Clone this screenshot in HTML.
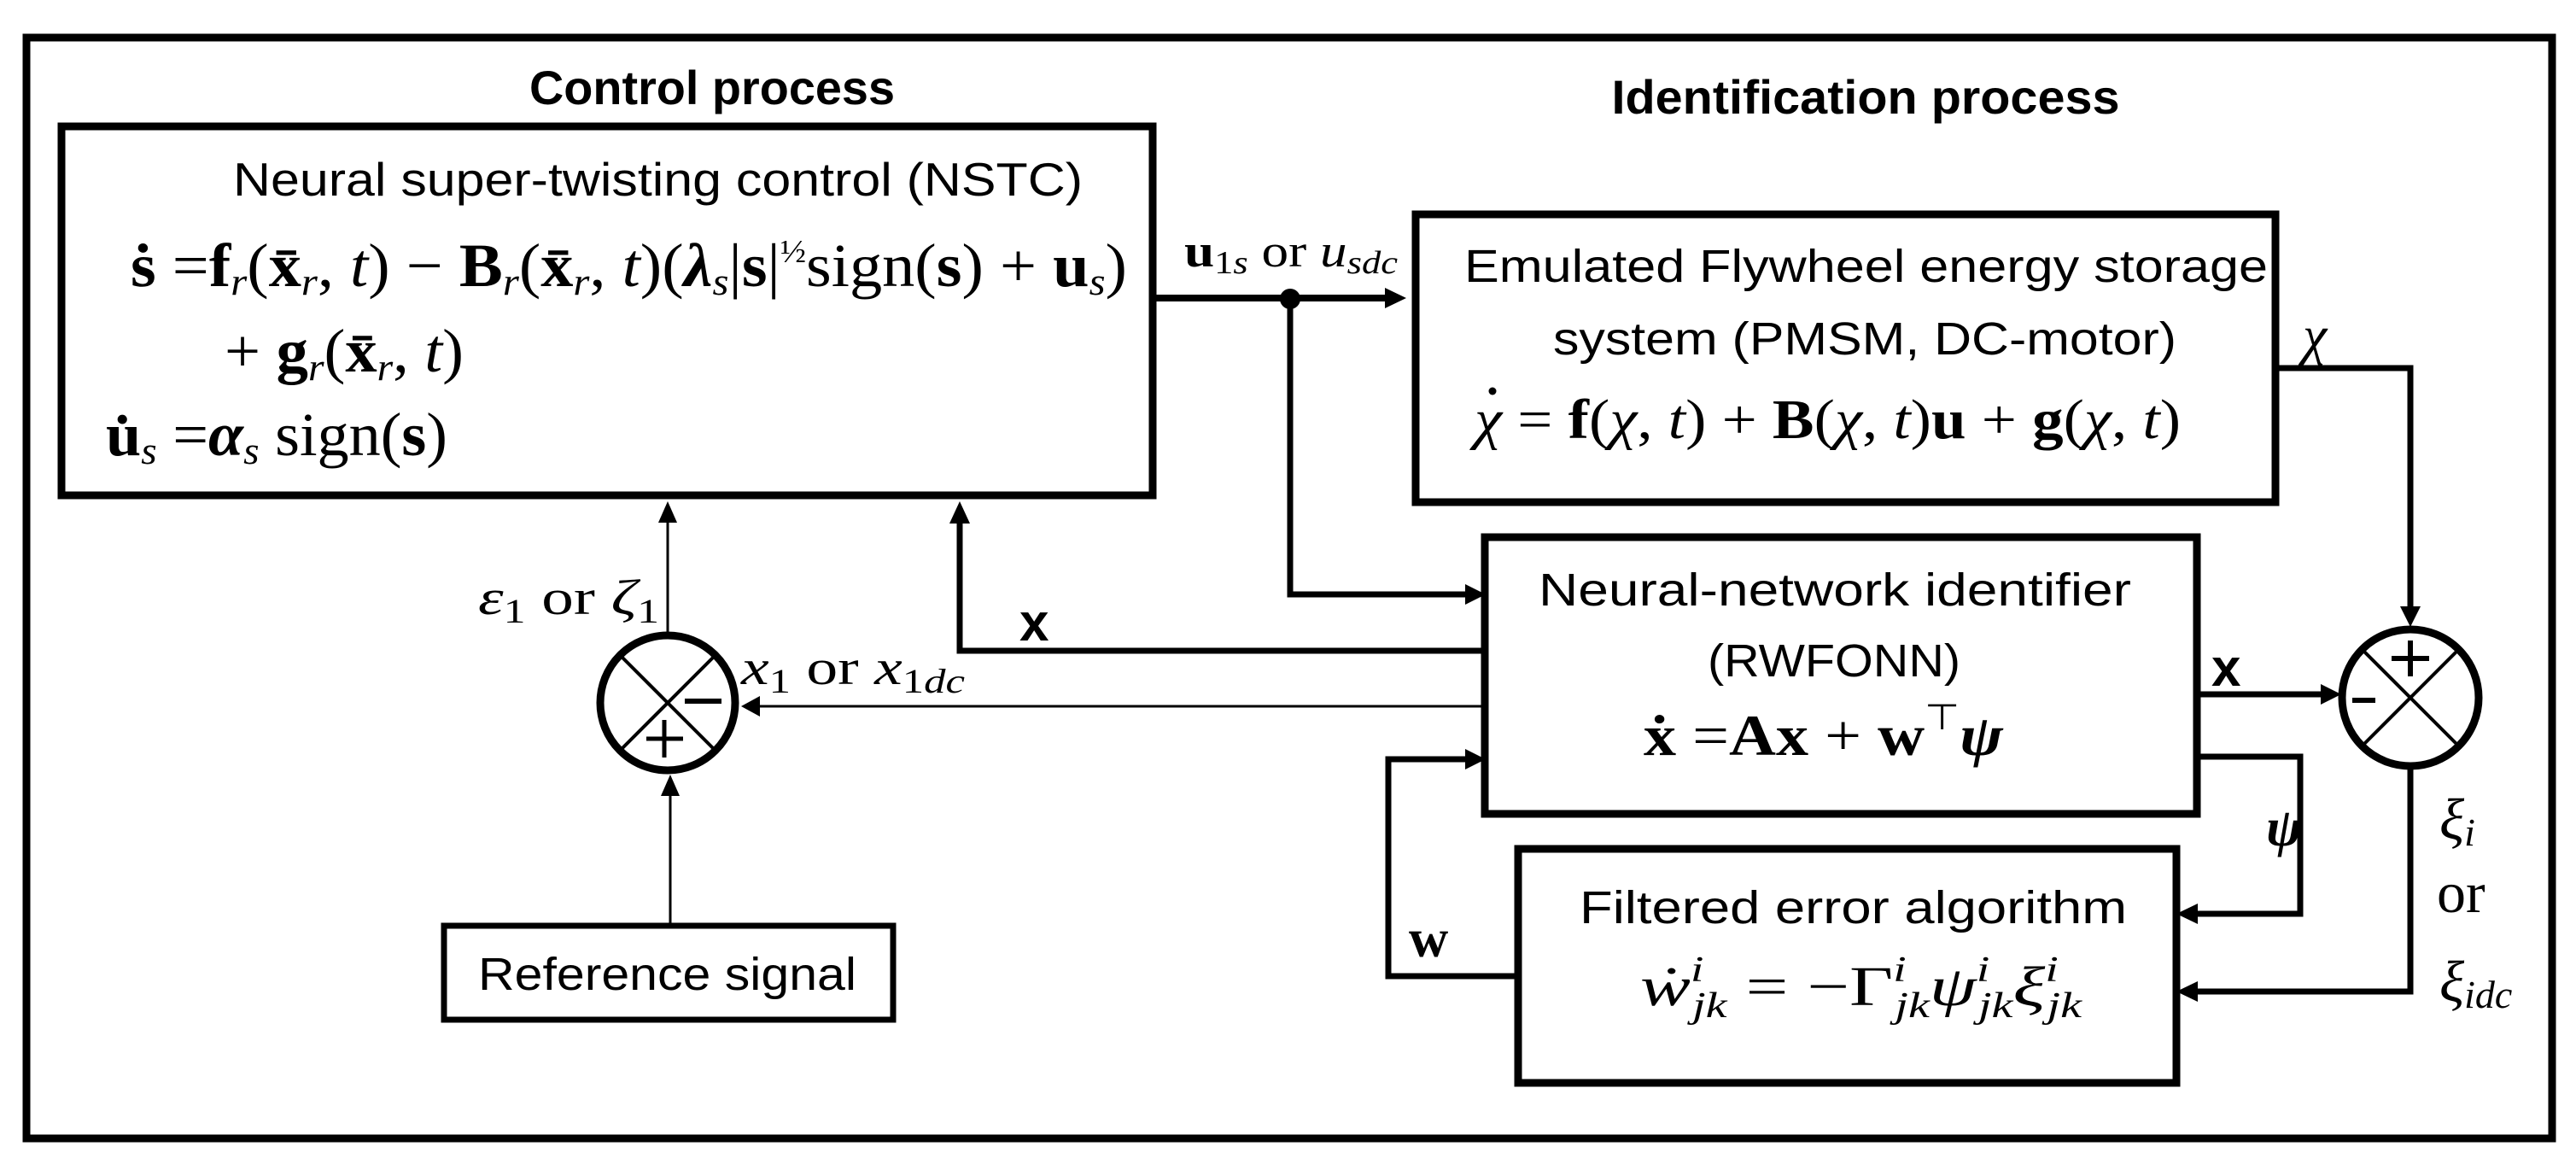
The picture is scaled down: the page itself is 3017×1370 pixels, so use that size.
<!DOCTYPE html>
<html><head><meta charset="utf-8"><style>
html,body{margin:0;padding:0;background:#fff}
svg{display:block}
.s{font-family:"Liberation Sans",sans-serif}
.m{font-family:"Liberation Serif",serif}
</style></head><body>
<svg width="3017" height="1370" viewBox="0 0 3017 1370" xmlns="http://www.w3.org/2000/svg">
<rect x="0" y="0" width="3017" height="1370" fill="#fff"/>
<rect x="31" y="44" width="2958" height="1289" fill="none" stroke="#000" stroke-width="9"/>

<text class="s" x="834" y="122" font-size="56" font-weight="bold" text-anchor="middle" textLength="428" lengthAdjust="spacingAndGlyphs">Control process</text>
<text class="s" x="2185" y="133" font-size="56" font-weight="bold" text-anchor="middle" textLength="595" lengthAdjust="spacingAndGlyphs">Identification process</text>

<rect x="72" y="148" width="1278" height="432" fill="none" stroke="#000" stroke-width="9"/>
<text class="s" x="273" y="229" font-size="55" textLength="995" lengthAdjust="spacingAndGlyphs">Neural super-twisting control (NSTC)</text>
<text class="m" x="153" y="335" font-size="72" textLength="1167" lengthAdjust="spacingAndGlyphs"><tspan font-weight="bold">ṡ</tspan> =<tspan font-weight="bold">f</tspan><tspan font-style="italic" font-size="46" dy="10">r</tspan><tspan dy="-10">(</tspan><tspan font-weight="bold">x̄</tspan><tspan font-style="italic" font-size="46" dy="10">r</tspan><tspan dy="-10">, </tspan><tspan font-style="italic">t</tspan>) − <tspan font-weight="bold">B</tspan><tspan font-style="italic" font-size="46" dy="10">r</tspan><tspan dy="-10">(</tspan><tspan font-weight="bold">x̄</tspan><tspan font-style="italic" font-size="46" dy="10">r</tspan><tspan dy="-10">, </tspan><tspan font-style="italic">t</tspan>)(<tspan font-weight="bold" font-style="italic">λ</tspan><tspan font-style="italic" font-size="46" dy="10">s</tspan><tspan dy="-10">|</tspan><tspan font-weight="bold">s</tspan>|<tspan font-size="38" dy="-28">½</tspan><tspan dy="28">sign(</tspan><tspan font-weight="bold">s</tspan>) + <tspan font-weight="bold">u</tspan><tspan font-style="italic" font-size="46" dy="10">s</tspan><tspan dy="-10">)</tspan></text>
<text class="m" x="263" y="435" font-size="72" textLength="280" lengthAdjust="spacingAndGlyphs">+ <tspan font-weight="bold">g</tspan><tspan font-style="italic" font-size="46" dy="10">r</tspan><tspan dy="-10">(</tspan><tspan font-weight="bold">x̄</tspan><tspan font-style="italic" font-size="46" dy="10">r</tspan><tspan dy="-10">, </tspan><tspan font-style="italic">t</tspan>)</text>
<text class="m" x="124" y="533" font-size="72" textLength="400" lengthAdjust="spacingAndGlyphs"><tspan font-weight="bold">u̇</tspan><tspan font-style="italic" font-size="46" dy="10">s</tspan><tspan dy="-10"> =</tspan><tspan font-weight="bold" font-style="italic">α</tspan><tspan font-style="italic" font-size="46" dy="10">s</tspan><tspan dy="-10"> sign(</tspan><tspan font-weight="bold">s</tspan>)</text>

<line x1="1350" y1="349" x2="1625" y2="349" stroke="#000" stroke-width="8"/>
<polygon points="1647,349 1622,337 1622,361" fill="#000"/>
<circle cx="1511" cy="350" r="12" fill="#000"/>
<text class="m" x="1387" y="312" font-size="54" textLength="250" lengthAdjust="spacingAndGlyphs"><tspan font-weight="bold">u</tspan><tspan font-size="38" dy="8">1<tspan font-style="italic">s</tspan></tspan><tspan dy="-8"> or </tspan><tspan font-style="italic">u</tspan><tspan font-style="italic" font-size="38" dy="8">sdc</tspan></text>
<polyline points="1511,350 1511,696 1718,696" fill="none" stroke="#000" stroke-width="7"/>
<polygon points="1740,696 1716,684 1716,708" fill="#000"/>

<rect x="1658" y="251" width="1007" height="337" fill="none" stroke="#000" stroke-width="9"/>
<text class="s" x="1715" y="330" font-size="54" textLength="941" lengthAdjust="spacingAndGlyphs">Emulated Flywheel energy storage</text>
<text class="s" x="1819" y="415" font-size="54" textLength="730" lengthAdjust="spacingAndGlyphs">system (PMSM, DC-motor)</text>
<circle cx="1748" cy="458" r="4.5" fill="#000"/>
<text class="m" x="1727" y="513" font-size="66" textLength="827" lengthAdjust="spacingAndGlyphs"><tspan font-style="italic">χ</tspan> = <tspan font-weight="bold">f</tspan>(<tspan font-style="italic">χ</tspan>, <tspan font-style="italic">t</tspan>) + <tspan font-weight="bold">B</tspan>(<tspan font-style="italic">χ</tspan>, <tspan font-style="italic">t</tspan>)<tspan font-weight="bold">u</tspan> + <tspan font-weight="bold">g</tspan>(<tspan font-style="italic">χ</tspan>, <tspan font-style="italic">t</tspan>)</text>
<polyline points="2665,431 2823,431 2823,712" fill="none" stroke="#000" stroke-width="7"/>
<polygon points="2823,734 2811,710 2835,710" fill="#000"/>
<text class="m" x="2697" y="414" font-size="64" font-style="italic">χ</text>

<rect x="1739" y="629" width="834" height="324" fill="none" stroke="#000" stroke-width="9"/>
<text class="s" x="1802" y="709" font-size="54" textLength="694" lengthAdjust="spacingAndGlyphs">Neural-network identifier</text>
<text class="s" x="2148" y="792" font-size="54" text-anchor="middle" textLength="296" lengthAdjust="spacingAndGlyphs">(RWFONN)</text>
<text class="m" x="1925" y="884" font-size="68" textLength="421" lengthAdjust="spacingAndGlyphs"><tspan font-weight="bold">ẋ</tspan> =<tspan font-weight="bold">Ax</tspan> + <tspan font-weight="bold">w</tspan><tspan font-size="42" dy="-30">⊤</tspan><tspan dy="30" font-weight="bold" font-style="italic">ψ</tspan></text>

<polyline points="1739,762 1124,762 1124,612" fill="none" stroke="#000" stroke-width="7"/>
<polygon points="1124,587 1112,613 1136,613" fill="#000"/>
<text class="s" x="1194" y="750" font-size="62" font-weight="bold">x</text>
<line x1="1739" y1="827" x2="888" y2="827" stroke="#000" stroke-width="3"/>
<polygon points="868,827 890,815 890,839" fill="#000"/>
<text class="m" x="868" y="801" font-size="58" textLength="262" lengthAdjust="spacingAndGlyphs"><tspan font-style="italic">x</tspan><tspan font-size="40" dy="10">1</tspan><tspan dy="-10"> or </tspan><tspan font-style="italic">x</tspan><tspan font-size="40" dy="10">1<tspan font-style="italic">dc</tspan></tspan></text>

<circle cx="782" cy="823" r="79" fill="#fff" stroke="#000" stroke-width="9"/>
<line x1="726" y1="767" x2="838" y2="879" stroke="#000" stroke-width="4"/>
<line x1="838" y1="767" x2="726" y2="879" stroke="#000" stroke-width="4"/>
<rect x="800" y="816" width="46" height="10" fill="#fff"/>
<line x1="802" y1="821" x2="845" y2="821" stroke="#000" stroke-width="6"/>
<line x1="757" y1="865" x2="800" y2="865" stroke="#000" stroke-width="5"/>
<line x1="778" y1="843" x2="778" y2="887" stroke="#000" stroke-width="5"/>
<line x1="782" y1="740" x2="782" y2="610" stroke="#000" stroke-width="3"/>
<polygon points="782,587 771,612 793,612" fill="#000"/>
<text class="m" x="560" y="719" font-size="58" textLength="212" lengthAdjust="spacingAndGlyphs"><tspan font-style="italic">ε</tspan><tspan font-size="40" dy="10">1</tspan><tspan dy="-10"> or </tspan><tspan font-style="italic">ζ</tspan><tspan font-size="40" dy="10">1</tspan></text>
<line x1="785" y1="1083" x2="785" y2="930" stroke="#000" stroke-width="3"/>
<polygon points="785,907 774,932 796,932" fill="#000"/>
<rect x="520" y="1084" width="526" height="110" fill="none" stroke="#000" stroke-width="7"/>
<text class="s" x="560" y="1159" font-size="54" textLength="443" lengthAdjust="spacingAndGlyphs">Reference signal</text>

<line x1="2573" y1="813" x2="2720" y2="813" stroke="#000" stroke-width="7"/>
<polygon points="2742,813 2718,801 2718,825" fill="#000"/>
<text class="s" x="2590" y="803" font-size="62" font-weight="bold">x</text>
<circle cx="2823" cy="817" r="80" fill="#fff" stroke="#000" stroke-width="9"/>
<line x1="2766" y1="760" x2="2880" y2="874" stroke="#000" stroke-width="4"/>
<line x1="2880" y1="760" x2="2766" y2="874" stroke="#000" stroke-width="4"/>
<line x1="2801" y1="771" x2="2845" y2="771" stroke="#000" stroke-width="6"/>
<line x1="2823" y1="750" x2="2823" y2="792" stroke="#000" stroke-width="6"/>
<line x1="2755" y1="820" x2="2782" y2="820" stroke="#000" stroke-width="6"/>
<polyline points="2823,900 2823,1161 2572,1161" fill="none" stroke="#000" stroke-width="7"/>
<polygon points="2549,1161 2574,1149 2574,1173" fill="#000"/>
<text class="m" x="2857" y="982" font-size="68" font-style="italic">ξ<tspan font-size="46" dy="8">i</tspan></text>
<text class="m" x="2854" y="1068" font-size="68">or</text>
<text class="m" x="2857" y="1172" font-size="68" font-style="italic">ξ<tspan font-size="46" dy="8">idc</tspan></text>

<polyline points="2573,886 2694,886 2694,1070 2572,1070" fill="none" stroke="#000" stroke-width="7"/>
<polygon points="2549,1070 2574,1058 2574,1082" fill="#000"/>
<text class="m" x="2654" y="990" font-size="64" font-weight="bold" font-style="italic">ψ</text>

<rect x="1778" y="994" width="771" height="274" fill="none" stroke="#000" stroke-width="9"/>
<text class="s" x="1850" y="1081" font-size="54" textLength="641" lengthAdjust="spacingAndGlyphs">Filtered error algorithm</text>
<text class="m" x="1921" y="1177" font-size="66" textLength="517" lengthAdjust="spacingAndGlyphs"><tspan font-style="italic">ẇ</tspan><tspan font-style="italic" font-size="42" dy="-28">i</tspan><tspan font-style="italic" font-size="42" dx="-10" dy="42">jk</tspan><tspan dy="-14"> = −Γ</tspan><tspan font-style="italic" font-size="42" dy="-28">i</tspan><tspan font-style="italic" font-size="42" dx="-10" dy="42">jk</tspan><tspan font-style="italic" dy="-14">ψ</tspan><tspan font-style="italic" font-size="42" dy="-28">i</tspan><tspan font-style="italic" font-size="42" dx="-10" dy="42">jk</tspan><tspan font-style="italic" dy="-14">ξ</tspan><tspan font-style="italic" font-size="42" dy="-28">i</tspan><tspan font-style="italic" font-size="42" dx="-10" dy="42">jk</tspan></text>

<polyline points="1778,1143 1626,1143 1626,889 1718,889" fill="none" stroke="#000" stroke-width="7"/>
<polygon points="1740,889 1716,877 1716,901" fill="#000"/>
<text class="m" x="1650" y="1120" font-size="64" font-weight="bold">w</text>
</svg>
</body></html>
